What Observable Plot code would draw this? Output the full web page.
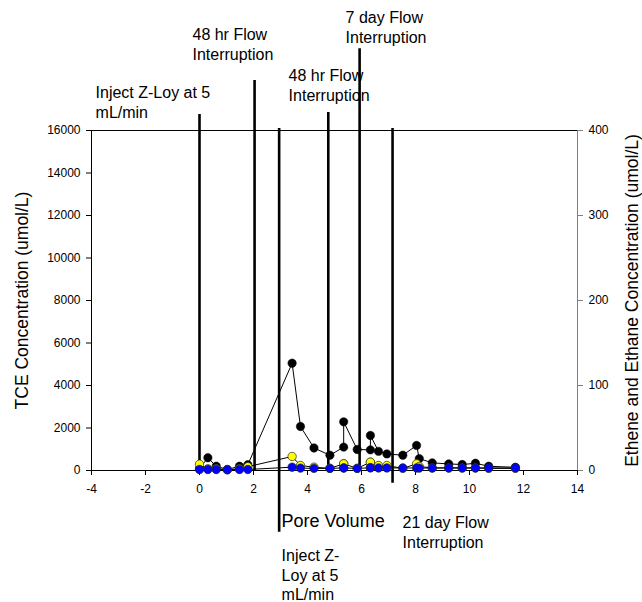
<!DOCTYPE html>
<html>
<head>
<meta charset="utf-8">
<script src="https://cdn.jsdelivr.net/npm/d3@7"></script>
<script src="https://cdn.jsdelivr.net/npm/@observablehq/plot@0.6"></script>
<style>
  body { margin: 0; background: #fff; }
  #chart svg { display: block; }
</style>
</head>
<body>
<div id="chart"></div>
<script>
// Column effluent samples, by pore volume
const poreVolume = [0, 0.31, 0.62, 1.03, 1.48, 1.79, 3.43, 3.74, 4.24, 4.83, 5.34, 5.34, 5.84,
  6.33, 6.33, 6.63, 6.94, 7.53, 8.04, 8.14, 8.62, 9.23, 9.73, 10.22, 10.71, 11.70];
// TCE, umol/L (left axis)
const tce = [90, 600, 200, 50, 200, 270, 5050, 2070, 1060, 720, 1100, 2290, 990,
  970, 1650, 900, 780, 720, 1180, 560, 360, 310, 280, 340, 200, 150];
// Ethene and ethane, umol/L (right axis)
const ethene = [7.5, 2, 2, 1, 2, 4.5, 16.5, 5.9, 3.9, 2.5, 7.9, 7.9, 2.5,
  9.8, 9.8, 5.9, 5.9, 2.5, 7.9, 4.7, 3, 3, 3, 3, 2.5, 2.5];
const ethane = [1.2, 1.2, 1.2, 0.8, 1.2, 1.2, 3.9, 2.8, 2.5, 2.5, 3, 3, 2.5,
  3.2, 3.2, 3, 3, 3, 3, 2.8, 3, 3, 3, 3, 3, 3];

// Operational events (pore volume) and the extent of their marker lines, in TCE units
const eventPV = [0, 2.04, 2.95, 4.77, 5.93, 7.15];
const eventTop = [16750, 18350, 16100, 16850, 19850, 16100];
const eventBottom = [0, 0, -2900, 0, 0, -600];

// Event notes: text with its anchor (pore volume, TCE units)
const noteText = [
  "Inject Z-Loy at 5\nmL/min",
  "48 hr Flow\nInterruption",
  "48 hr Flow\nInterruption",
  "7 day Flow\nInterruption",
  "21 day Flow\nInterruption",
  "Inject Z-\nLoy at 5\nmL/min"
];
const noteX = [-3.85, -0.26, 3.30, 5.41, 7.52, 3.04];
const noteY = [18150, 20880, 18950, 21680, -2085, -3640];

const xTicks = [-4, -2, 0, 2, 4, 6, 8, 10, 12, 14];
const tceTicks = [0, 2000, 4000, 6000, 8000, 10000, 12000, 14000, 16000];
const gasTicks = [0, 100, 200, 300, 400];

// right axis spans 0–400 against the left axis 0–16000
const k = 16000 / 400;

const idx = d3.range(poreVolume.length);
const events = d3.range(eventPV.length);
const notes = d3.range(noteText.length);

const chart = Plot.plot({
  width: 642,
  height: 602,
  marginLeft: 91,
  marginRight: 65,
  marginTop: 130,
  marginBottom: 132,
  x: { domain: [-4, 14] },
  y: { domain: [0, 16000] },
  style: { fontFamily: "'Liberation Sans', Arial, sans-serif", fontSize: "12px", color: "#000", background: "#fff", overflow: "visible" },
  marks: [
    // frame
    Plot.ruleY([16000], { stroke: "#000", strokeWidth: 1 }),
    Plot.ruleX([14], { stroke: "#808080", strokeWidth: 1 }),
    Plot.ruleX([-4], { stroke: "#000", strokeWidth: 1 }),
    Plot.ruleY([0], { stroke: "#000", strokeWidth: 1 }),
    Plot.axisX({ ticks: xTicks, tickSize: 5, tickPadding: 9, label: null, fontSize: 12, tickFormat: d => String(d) }),
    Plot.axisY({ ticks: tceTicks, tickSize: 5, tickPadding: 6, label: null, fontSize: 12, tickFormat: d => String(d) }),
    Plot.axisY({ anchor: "right", ticks: gasTicks.map(v => v * k), tickSize: 5, tickPadding: 6, label: null,
      fontSize: 12, stroke: "#808080", fill: "#000", tickFormat: d => String(d / k) }),
    Plot.text(["TCE Concentration (umol/L)"], { frameAnchor: "left", dx: -69, rotate: -90, textAnchor: "middle", fontSize: 17.5 }),
    Plot.text(["Ethene and Ethane Concentration (umol/L)"], { frameAnchor: "right", dx: 55, rotate: -90, textAnchor: "middle", fontSize: 17.5 }),
    Plot.text(["Pore Volume"], { x: 3.04, y: -2050, textAnchor: "start", lineAnchor: "top", fontSize: 18 }),

    // event lines and notes
    Plot.ruleX(events, { x: i => eventPV[i], y1: i => eventTop[i], y2: i => eventBottom[i], stroke: "#000", strokeWidth: 2.6 }),
    Plot.text(notes, { x: i => noteX[i], y: i => noteY[i], text: i => noteText[i], textAnchor: "start", lineAnchor: "top", fontSize: 16, lineHeight: 1.2 }),

    // TCE
    Plot.line(idx, { x: i => poreVolume[i], y: i => tce[i], stroke: "#000", strokeWidth: 1 }),
    Plot.dot(idx, { x: i => poreVolume[i], y: i => tce[i], r: 4.2, fill: "#000", stroke: "#000", strokeWidth: 0.5 }),
    // ethene
    Plot.line(idx, { x: i => poreVolume[i], y: i => ethene[i] * k, stroke: "#000", strokeWidth: 1 }),
    Plot.dot(idx, { x: i => poreVolume[i], y: i => ethene[i] * k, r: 4.2, fill: "#ffff00", stroke: "#222", strokeWidth: 0.7 }),
    // ethane
    Plot.line(idx, { x: i => poreVolume[i], y: i => ethane[i] * k, stroke: "#000", strokeWidth: 1 }),
    Plot.dot(idx, { x: i => poreVolume[i], y: i => ethane[i] * k, r: 4.2, fill: "#0000ff", stroke: "#222", strokeWidth: 0.7 })
  ]
});

document.getElementById("chart").append(chart);
</script>
</body>
</html>
